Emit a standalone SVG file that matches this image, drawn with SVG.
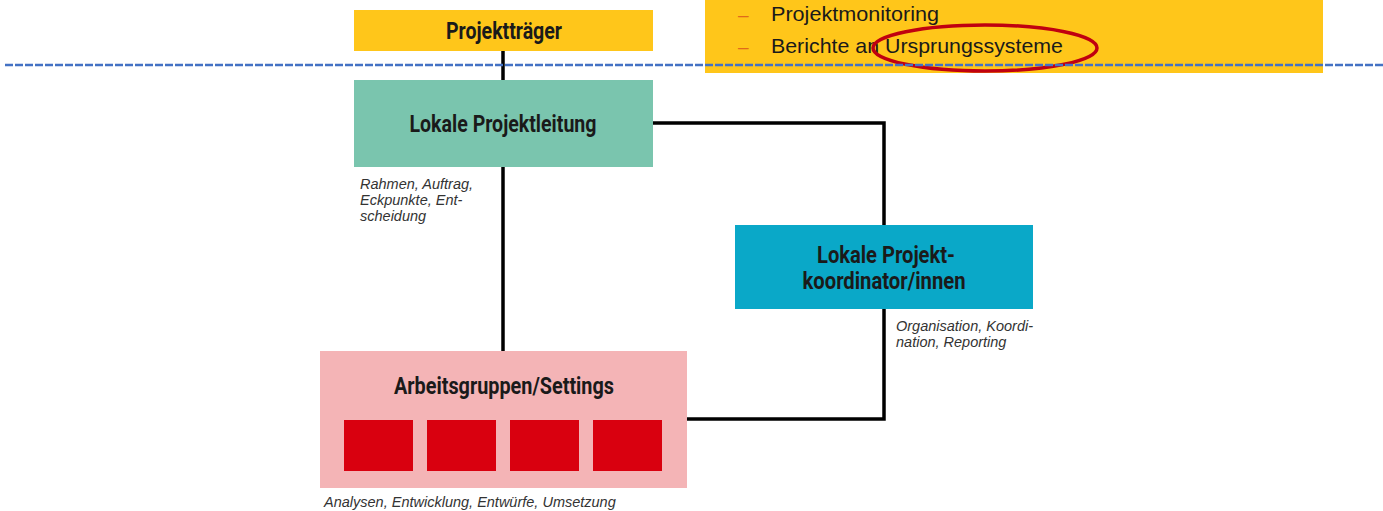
<svg xmlns="http://www.w3.org/2000/svg" width="1383" height="511" viewBox="0 0 1383 511">
<style>
.title{font-family:Roboto,"Liberation Sans",sans-serif;font-weight:bold;font-size:24px;fill:#1a1a1a;text-anchor:middle}
.note{font-family:"Liberation Sans",Arial,sans-serif;font-style:italic;font-size:14.5px;fill:#333}
.bul{font-family:"Liberation Sans",Arial,sans-serif;font-size:21px;fill:#1a1a1a}
.dash{font-family:"Liberation Sans",Arial,sans-serif;font-size:19px;fill:#E06A1A}
.conn{fill:none;stroke:#000;stroke-width:3.5}
.sq{fill:#D9000F}
</style>
<rect width="1383" height="511" fill="#fff"/>
<g id="info">
<rect x="705" y="0" width="618" height="73" fill="#FFC61A"/>
<text class="dash" x="738" y="21">–</text>
<text class="bul" x="771" y="21" textLength="168" lengthAdjust="spacingAndGlyphs">Projektmonitoring</text>
<text class="dash" x="738" y="53">–</text>
<text class="bul" x="771" y="53" textLength="292" lengthAdjust="spacingAndGlyphs">Berichte an Ursprungssysteme</text>
<ellipse cx="985" cy="48" rx="112" ry="23" fill="none" stroke="#C00010" stroke-width="3.5"/>
</g>
<g id="connectors">
<path class="conn" d="M503 51V80"/>
<path class="conn" d="M503 167V351"/>
<path class="conn" d="M653 123H884V225"/>
<path class="conn" d="M884 309V419H687"/>
</g>
<line x1="5" y1="65" x2="1383" y2="65" stroke="#4472C4" stroke-width="2.5" stroke-dasharray="8 2"/>
<g id="projekttraeger">
<rect x="354" y="10" width="299" height="41" fill="#FFC61A"/>
<text class="title" x="504" y="39" textLength="116" lengthAdjust="spacingAndGlyphs">Projektträger</text>
</g>
<g id="projektleitung">
<rect x="354" y="80" width="299" height="87" fill="#7AC5AE"/>
<text class="title" x="503" y="132" textLength="187" lengthAdjust="spacingAndGlyphs">Lokale Projektleitung</text>
<text class="note" x="360" y="189">Rahmen, Auftrag,</text>
<text class="note" x="360" y="205">Eckpunkte, Ent-</text>
<text class="note" x="360" y="221">scheidung</text>
</g>
<g id="koordinatoren">
<rect x="735" y="225" width="298" height="84" fill="#0AA8C8"/>
<text class="title" x="886" y="263" textLength="138" lengthAdjust="spacingAndGlyphs">Lokale Projekt-</text>
<text class="title" x="884" y="289" textLength="163" lengthAdjust="spacingAndGlyphs">koordinator/innen</text>
<text class="note" x="896" y="331">Organisation, Koordi-</text>
<text class="note" x="896" y="347">nation, Reporting</text>
</g>
<g id="arbeitsgruppen">
<rect x="320" y="351" width="367" height="137" fill="#F4B4B6"/>
<text class="title" x="504" y="394" textLength="220" lengthAdjust="spacingAndGlyphs">Arbeitsgruppen/Settings</text>
<rect class="sq" x="344" y="420" width="69" height="51"/>
<rect class="sq" x="427" y="420" width="69" height="51"/>
<rect class="sq" x="510" y="420" width="69" height="51"/>
<rect class="sq" x="593" y="420" width="69" height="51"/>
<text class="note" x="324" y="507">Analysen, Entwicklung, Entwürfe, Umsetzung</text>
</g>
</svg>
